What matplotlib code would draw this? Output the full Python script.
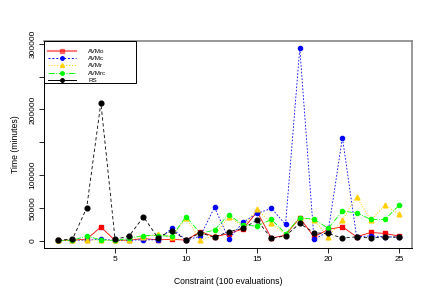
import matplotlib
matplotlib.use("Agg")
import matplotlib.pyplot as plt
from matplotlib.lines import Line2D
from matplotlib.patches import Rectangle

plt.rcParams['font.family'] = ['Liberation Sans', 'DejaVu Sans']

constraint = list(range(1, 26))
avmo = [500, 1000, 2500, 21000, 500, 1000, 3500, 1500, 2200, 1000, 14000, 6000, 11000,
        18000, 44000, 4000, 8700, 35000, 6000, 17300, 21300, 6100, 12700, 11200, 7100]
avmc = [500, 500, 1000, 2500, 500, 1000, 1500, 1500, 19000, 1000, 7000, 51000, 2600,
        28000, 41700, 49300, 25000, 293000, 2100, 14000, 157000, 6000, 7600, 6000, 5600]
avmr = [500, 500, 1500, 1000, 500, 500, 6000, 9700, 6000, 35000, 1000, 8000, 37000,
        22000, 47800, 26500, 10000, 35000, 32000, 6100, 31500, 67000, 31500, 54300, 40200]
avmrc = [500, 1000, 7100, 1500, 500, 4000, 8000, 8000, 7000, 37000, 11200, 16300, 40000,
         24000, 22400, 32500, 11000, 35000, 33000, 19000, 45200, 42600, 32500, 32500, 54300]
rs = [1000, 2500, 50000, 210000, 2000, 7600, 36500, 5000, 15200, 1500, 12000, 5500, 14000,
      18900, 31500, 3600, 7600, 26500, 12200, 11200, 4100, 6100, 4100, 6000, 5600]

fig = plt.figure(figsize=(4.36, 3.0), dpi=100)
ax = fig.add_axes([0.101, 0.173, 0.844, 0.69])

ax.plot(constraint, avmo, color='red', ls='-', lw=0.6, marker='s', ms=3.0)
ax.plot(constraint, avmc, color='blue', ls=(0, (2, 2)), lw=0.6, marker='o', ms=3.0)
ax.plot(constraint, avmr, color='#FFD000', ls=':', lw=0.7, marker='^', ms=3.4)
ax.plot(constraint, avmrc, color='#00FF00', ls='-.', lw=0.6, marker='o', ms=3.0)
ax.plot(constraint, rs, color='black', ls=(0, (4, 3)), lw=0.6, marker='o', ms=3.4)

ax.set_xlim(0.0, 25.9)
ax.set_ylim(-11100, 304000)
ax.set_xticks([5, 10, 15, 20, 25])
ax.set_yticks([0, 50000, 100000, 150000, 200000, 250000, 300000])
ax.set_yticklabels(['0', '50000', '100000', '', '200000', '', '300000'],
                   rotation=90, va='center')
ax.tick_params(labelsize=6, length=3.5, width=0.6, direction='out', pad=2)
ax.set_xlabel('Constraint (100 evaluations)', fontsize=6.2, labelpad=10)
ax.set_ylabel('Time (minutes)', fontsize=6.2, labelpad=7)

for s in ['left', 'bottom']:
    ax.spines[s].set_linewidth(0.7)
for s in ['top', 'right']:
    ax.spines[s].set_color('#888888')
    ax.spines[s].set_linewidth(1.2)

handles = [
    Line2D([], [], color='red', ls='-', lw=1.5, alpha=0.5, marker='s', ms=2.5, mec='red', mfc='red'),
    Line2D([], [], color='blue', ls=(0, (2, 2)), lw=0.7, marker='o', ms=2.5),
    Line2D([], [], color='#FFD000', ls=':', lw=0.8, marker='^', ms=2.8),
    Line2D([], [], color='#00FF00', ls='-.', lw=0.7, marker='o', ms=2.5),
    Line2D([], [], color='black', ls='-', lw=0.7, marker='o', ms=2.5),
]
labels = ['AVMo', 'AVMc', 'AVMr', 'AVMrc', 'RS']
ax.add_patch(Rectangle((0, 0.797), 0.25, 0.203, transform=ax.transAxes,
                       fill=False, ec='black', lw=0.7, zorder=5, clip_on=False))
ax.legend(handles, labels, loc='upper left', bbox_to_anchor=(0.0, 0.985),
          frameon=False, fontsize=4.5, handlelength=4.4, handletextpad=2.0,
          labelspacing=0.3, borderaxespad=0.3)

fig.savefig('out.png', dpi=100)
